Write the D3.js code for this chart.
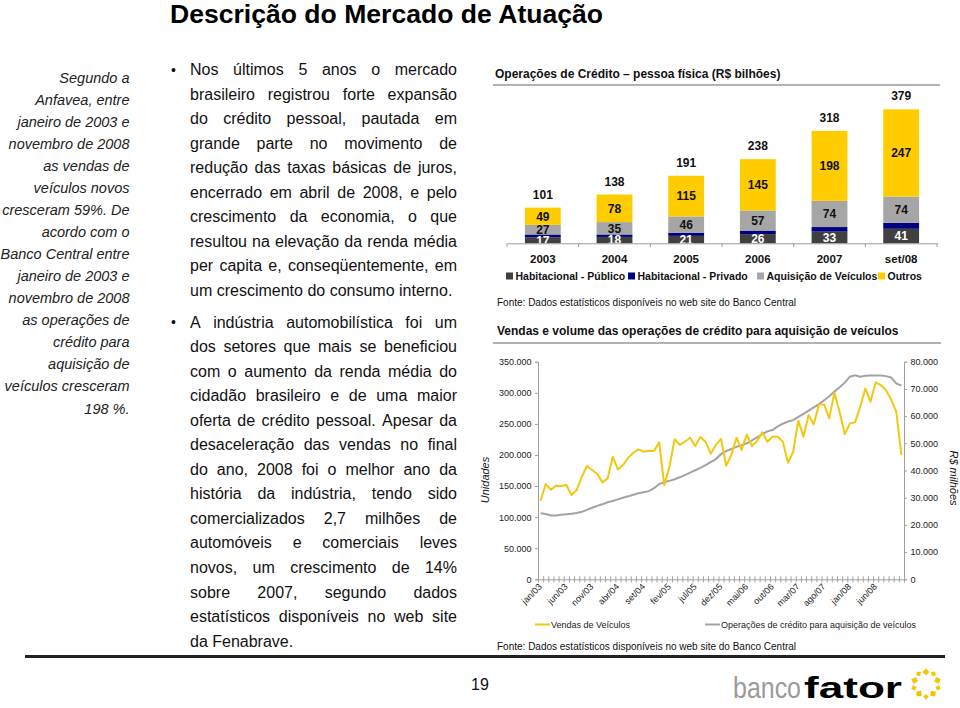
<!DOCTYPE html>
<head>
  <meta charset="utf-8">
  <script src="https://cdn.jsdelivr.net/npm/d3@7/dist/d3.min.js"></script>
  <style>
    body { margin:0; background:#fff; }
    svg { display:block; font-family:"Liberation Sans", Arial, sans-serif; }
  </style>
</head>

<body>
  <script>
// ---- dados: operações de crédito (R$ bilhões) ----
var years = ["2003", "2004", "2005", "2006", "2007", "set/08"];
var habPublico = [17, 18, 21, 26, 33, 41];
var habPrivado = [8, 7, 9, 10, 13, 17];
var veiculos = [27, 35, 46, 57, 74, 74];
var outros = [49, 78, 115, 145, 198, 247];
var totais = [101, 138, 191, 238, 318, 379];
var seriesNames = ["Habitacional - Público", "Habitacional -  Privado", "Aquisição de Veículos", "Outros"];

// ---- dados: vendas (unidades) e crédito p/ veículos (R$ milhões), jan/03 a nov/08 ----
var vendas = [126400, 153200, 144100, 150500, 150000, 151600, 135500, 143600, 165000, 182200,
  175700, 169300, 155900, 162300, 197200, 176800, 183700, 195500, 203600, 208900,
  205200, 206800, 206300, 220200, 151600, 181100, 225300, 216200, 221300, 227700,
  214300, 228800, 221300, 202000, 216200, 225900, 182700, 199800, 227700, 207900,
  233100, 214300, 222300, 236300, 221300, 229300, 229300, 221300, 187500, 205200,
  255200, 229300, 264200, 249200, 281300, 281300, 258800, 300000, 269500, 233100,
  250800, 252400, 277500, 307000, 285500, 316600, 312400, 304300, 289300, 269500, 199800];
var credito = [24300, 24000, 23500, 23500, 23700, 23900, 24100, 24400, 24800, 25500,
  26300, 27000, 27600, 28300, 28800, 29400, 30000, 30500, 31100, 31600,
  32000, 32400, 33500, 35000, 35700, 36200, 36800, 37500, 38300, 39200,
  40100, 41000, 42000, 43100, 44200, 46000, 47100, 47900, 48700, 49300,
  50000, 51100, 52200, 53400, 54400, 54900, 56200, 57200, 58000, 58500,
  59700, 60800, 62000, 63200, 64400, 65800, 67300, 69000, 70600, 72300,
  74500, 75000, 74500, 74800, 74900, 74900, 74900, 74700, 74200, 72000, 71200];
var monthNames = ["jan", "fev", "mar", "abr", "mai", "jun", "jul", "ago", "set", "out", "nov", "dez"];
var tickLabels = ["jan/03", "jun/03", "nov/03", "abr/04", "set/04", "fev/05", "jul/05",
  "dez/05", "mai/06", "out/06", "mar/07", "ago/07", "jan/08", "jun/08"];
var leftTicks = [0, 50000, 100000, 150000, 200000, 250000, 300000, 350000];
var rightTicks = [0, 10000, 20000, 30000, 40000, 50000, 60000, 70000, 80000];

// ---- textos ----
var sideText = ["Segundo a", "Anfavea, entre", "janeiro de 2003 e", "novembro de 2008",
  "as vendas de", "veículos novos", "cresceram 59%. De", "acordo com o",
  "Banco Central entre", "janeiro de 2003 e", "novembro de 2008", "as operações de",
  "crédito para", "aquisição de", "veículos cresceram", "198 %."];
var para1 = ["Nos últimos 5 anos o mercado", "brasileiro registrou forte expansão",
  "do crédito pessoal, pautada em", "grande parte no movimento de",
  "redução das taxas básicas de juros,", "encerrado em abril de 2008, e pelo",
  "crescimento da economia, o que", "resultou na elevação da renda média",
  "per capita e, conseqüentemente, em", "um crescimento do consumo interno."];
var para2 = ["A indústria automobilística foi um", "dos setores que mais se beneficiou",
  "com o aumento da renda média do", "cidadão brasileiro e de uma maior",
  "oferta de crédito pessoal. Apesar da", "desaceleração das vendas no final",
  "do ano,  2008 foi o melhor ano da", "história da indústria, tendo sido",
  "comercializados 2,7 milhões de", "automóveis e comerciais leves",
  "novos, um crescimento de 14%", "sobre 2007, segundo dados",
  "estatísticos disponíveis no web site", "da Fenabrave."];

var width = 960, height = 708;
var svg = d3.select("body").append("svg")
  .attr("width", width).attr("height", height);
svg.append("rect").attr("width", width).attr("height", height).attr("fill", "#fff");

// titulo
svg.append("text").attr("x", 170).attr("y", 23)
  .attr("font-size", 26).attr("font-weight", "bold").attr("fill", "#000")
  .attr("textLength", 433).attr("lengthAdjust", "spacingAndGlyphs")
  .text("Descrição do Mercado de Atuação");

// coluna lateral
svg.append("g").selectAll("text").data(sideText).enter().append("text")
  .attr("x", 129.5)
  .attr("y", function(d, i) { return 82.5 + i * 22.07; })
  .attr("text-anchor", "end").attr("font-size", 14.5).attr("font-style", "italic")
  .attr("fill", "#222")
  .text(function(d) { return d; });

// texto justificado
var measure = svg.append("text").attr("font-size", 16).attr("visibility", "hidden");
function textWidth(s) { measure.text(s); return measure.node().getComputedTextLength(); }

function paragraph(lines, y0) {
  var x0 = 190, x1 = 457, fs = 16;
  var g = svg.append("g").attr("font-size", fs).attr("fill", "#111");
  g.append("text").attr("x", 171).attr("y", y0 - 0.5).attr("font-size", 14).text("•");
  lines.forEach(function(ln, i) {
    var y = y0 + i * 24.55;
    var words = ln.split(/\s+/);
    var ws = words.map(textWidth);
    var last = i === lines.length - 1;
    var gap = last || words.length < 2 ? fs * 0.278 : (x1 - x0 - d3.sum(ws)) / (words.length - 1);
    var t = g.append("text").attr("y", y);
    var x = x0;
    words.forEach(function(w, j) {
      t.append("tspan").attr("x", x).text(w);
      x += ws[j] + gap;
    });
  });
}
paragraph(para1, 75);
paragraph(para2, 327.5);

// ---------- grafico de barras ----------
var bars = svg.append("g");
bars.append("text").attr("x", 495).attr("y", 78)
  .attr("font-size", 12).attr("font-weight", "bold").attr("fill", "#111")
  .text("Operações de Crédito – pessoa física (R$ bilhões)");
bars.append("line").attr("x1", 493).attr("x2", 940).attr("y1", 85).attr("y2", 85)
  .attr("stroke", "#9a9a9a").attr("stroke-width", 1.5);

var xB = d3.scaleBand().domain(years).range([507, 937]).paddingInner(0.5).paddingOuter(0.25);
var yB = d3.scaleLinear().domain([0, 400]).range([243.3, 243.3 - 400 * 0.3535]);
var colors = ["#404040", "#000080", "#a6a6a6", "#ffcc00"];
var labelColors = ["#fff", null, "#111", "#111"];

var table = years.map(function(y, i) {
  return { year: y, s0: habPublico[i], s1: habPrivado[i], s2: veiculos[i], s3: outros[i] };
});
var stack = d3.stack().keys(["s0", "s1", "s2", "s3"])(table);

var layer = bars.selectAll("g.layer").data(stack).enter().append("g")
  .attr("fill", function(d, i) { return colors[i]; });
layer.selectAll("rect").data(function(d) { return d; }).enter().append("rect")
  .attr("x", function(d) { return xB(d.data.year); })
  .attr("width", xB.bandwidth())
  .attr("y", function(d) { return yB(d[1]); })
  .attr("height", function(d) { return yB(d[0]) - yB(d[1]); });

stack.forEach(function(s, k) {
  if (!labelColors[k]) return;
  bars.append("g").selectAll("text").data(s).enter().append("text")
    .attr("x", function(d) { return xB(d.data.year) + xB.bandwidth() / 2; })
    .attr("y", function(d) { return (yB(d[0]) + yB(d[1])) / 2 + 4.3; })
    .attr("text-anchor", "middle").attr("font-size", 12).attr("font-weight", "bold")
    .attr("fill", labelColors[k])
    .text(function(d) { return d[1] - d[0]; });
});

bars.append("g").selectAll("text").data(totais).enter().append("text")
  .attr("x", function(d, i) { return xB(years[i]) + xB.bandwidth() / 2; })
  .attr("y", function(d) { return yB(d) - 9; })
  .attr("text-anchor", "middle").attr("font-size", 12).attr("font-weight", "bold")
  .attr("fill", "#111")
  .text(function(d) { return d; });

// eixo x das barras
var xBAxis = bars.append("g").attr("transform", "translate(0,243.3)")
  .call(d3.axisBottom(xB).tickSize(0).tickPadding(12));
xBAxis.select(".domain").attr("stroke", "#9a9a9a");
xBAxis.selectAll("text").attr("font-size", 11.5).attr("font-weight", "bold")
  .attr("fill", "#111").attr("font-family", "Liberation Sans, Arial, sans-serif");
bars.append("g").selectAll("line").data(d3.range(years.length + 1)).enter().append("line")
  .attr("x1", function(i) { return 507 + i * xB.step(); })
  .attr("x2", function(i) { return 507 + i * xB.step(); })
  .attr("y1", 243.3).attr("y2", 247).attr("stroke", "#9a9a9a");

// legenda das barras
var legX = [506, 628, 757, 878];
var leg = bars.append("g").selectAll("g").data(seriesNames).enter().append("g")
  .attr("transform", function(d, i) { return "translate(" + legX[i] + ",276.5)"; });
leg.append("rect").attr("x", 0).attr("y", -4).attr("width", 7).attr("height", 7)
  .attr("fill", function(d, i) { return colors[i]; });
leg.append("text").attr("x", 9.5).attr("y", 3.8)
  .attr("font-size", 10.5).attr("font-weight", "bold").attr("fill", "#111")
  .text(function(d) { return d; });

bars.append("text").attr("x", 497).attr("y", 305.5).attr("font-size", 10).attr("fill", "#111")
  .text("Fonte: Dados estatísticos disponíveis no web site do Banco Central");

// ---------- grafico de linhas ----------
var lc = svg.append("g");
lc.append("text").attr("x", 497).attr("y", 334.5)
  .attr("font-size", 12).attr("font-weight", "bold").attr("fill", "#111")
  .text("Vendas e volume das operações de crédito para aquisição de veículos");
lc.append("line").attr("x1", 493).attr("x2", 941).attr("y1", 343).attr("y2", 343)
  .attr("stroke", "#9a9a9a").attr("stroke-width", 1.5);

var months = vendas.map(function(v, i) {
  return monthNames[i % 12] + "/0" + (3 + Math.floor(i / 12));
});
var x0 = 538, x1 = 904, y0 = 579.3, y1 = 361.7;
var xL = d3.scalePoint().domain(months).range([x0, x1]).padding(0.5);
var xIdx = d3.scaleLinear().domain([0, months.length]).range([x0, x1]);
var yL = d3.scaleLinear().domain([0, 350000]).range([y0, y1]);
var yR = d3.scaleLinear().domain([0, 80000]).range([y0, y1]);
var br = d3.formatLocale({ decimal: ",", thousands: ".", grouping: [3], currency: ["R$", ""] });
var fmt = br.format(",d");

var axL = lc.append("g").attr("transform", "translate(" + x0 + ",0)")
  .call(d3.axisLeft(yL).tickValues(leftTicks).tickFormat(fmt).tickSize(3).tickPadding(3.5));
var axR = lc.append("g").attr("transform", "translate(" + x1 + ",0)")
  .call(d3.axisRight(yR).tickValues(rightTicks).tickFormat(fmt).tickSize(3).tickPadding(3.5));
var axB = lc.append("g").attr("transform", "translate(0," + y0 + ")")
  .call(d3.axisBottom(xIdx).tickValues(d3.range(months.length + 1)).tickFormat("").tickSize(3));
axB.selectAll(".tick line").attr("y1", -3);
[axL, axR, axB].forEach(function(a) {
  a.select(".domain").attr("stroke", "#a0a0a0");
  a.selectAll(".tick line").attr("stroke", "#a0a0a0");
  a.selectAll("text").attr("font-size", 9).attr("fill", "#222")
    .attr("font-family", "Liberation Sans, Arial, sans-serif");
});

lc.append("g").selectAll("text").data(tickLabels).enter().append("text")
  .attr("transform", function(d) { return "translate(" + (xL(d) + 2) + "," + (y0 + 8) + ") rotate(-45)"; })
  .attr("text-anchor", "end").attr("font-size", 9).attr("fill", "#222")
  .text(function(d) { return d; });

lc.append("path").datum(credito)
  .attr("fill", "none").attr("stroke", "#a3a3a3").attr("stroke-width", 2)
  .attr("d", d3.line().x(function(d, i) { return xL(months[i]); }).y(function(d) { return yR(d); }));
lc.append("path").datum(vendas)
  .attr("fill", "none").attr("stroke", "#f2c80f").attr("stroke-width", 2)
  .attr("stroke-linejoin", "round")
  .attr("d", d3.line().x(function(d, i) { return xL(months[i]); }).y(function(d) { return yL(d); }));

lc.append("text").attr("transform", "translate(489,480) rotate(-90)")
  .attr("text-anchor", "middle").attr("font-size", 11).attr("font-style", "italic").attr("fill", "#111")
  .text("Unidades");
lc.append("text").attr("transform", "translate(950,478) rotate(90)")
  .attr("text-anchor", "middle").attr("font-size", 11).attr("font-style", "italic").attr("fill", "#111")
  .text("R$ milhões");

// legenda das linhas
var lineLeg = [{ x: 535, name: "Vendas de Veículos", color: "#f2c80f" },
               { x: 705, name: "Operações de crédito para aquisição de veículos", color: "#a3a3a3" }];
var ll = lc.append("g").selectAll("g").data(lineLeg).enter().append("g")
  .attr("transform", function(d) { return "translate(" + d.x + ",624.5)"; });
ll.append("line").attr("x1", 0).attr("x2", 15).attr("stroke", function(d) { return d.color; })
  .attr("stroke-width", 2);
ll.append("text").attr("x", 16).attr("y", 3.2).attr("font-size", 9).attr("fill", "#222")
  .text(function(d) { return d.name; });

lc.append("text").attr("x", 497).attr("y", 649.5).attr("font-size", 10).attr("fill", "#111")
  .text("Fonte: Dados estatísticos disponíveis no web site do Banco Central");

// rodape
svg.append("line").attr("x1", 25).attr("x2", 945).attr("y1", 656.5).attr("y2", 656.5)
  .attr("stroke", "#222").attr("stroke-width", 3);
svg.append("text").attr("x", 480).attr("y", 690).attr("text-anchor", "middle")
  .attr("font-size", 16).attr("fill", "#111").text("19");

var logo = svg.append("g");
logo.append("text").attr("x", 733).attr("y", 698).attr("font-size", 29)
  .attr("fill", "#9a9a9a").attr("textLength", 68).attr("lengthAdjust", "spacingAndGlyphs")
  .text("banco");
logo.append("text").attr("x", 804).attr("y", 698).attr("font-size", 29).attr("font-weight", "bold")
  .attr("fill", "#000").attr("textLength", 98).attr("lengthAdjust", "spacingAndGlyphs")
  .text("fator");
logo.append("g").attr("transform", "translate(926,684)").selectAll("rect")
  .data(d3.range(10)).enter().append("rect")
  .attr("x", -2.5).attr("y", -2.5)
  .attr("width", function(i) { return i % 2 ? 4 : 5; })
  .attr("height", function(i) { return i % 2 ? 4 : 5; })
  .attr("fill", "#f5c400")
  .attr("transform", function(i) { return "rotate(" + (i * 36) + ") translate(0,-12) rotate(45)"; });
  </script>
</body>
